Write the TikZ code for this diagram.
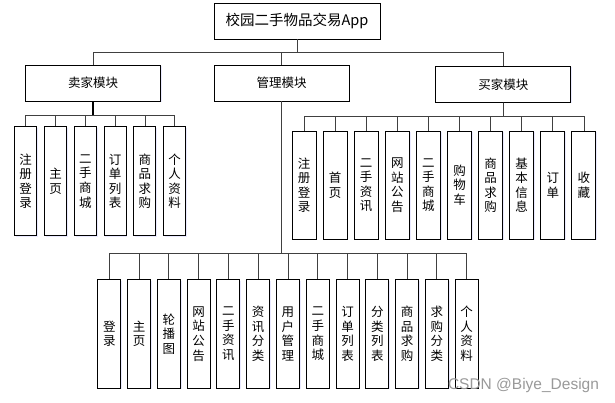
\documentclass[tikz,border=0pt]{standalone}
\usepackage{fontspec}
\setmainfont{Noto Sans CJK SC}
\newfontfamily\wmfont{Liberation Sans}
\usetikzlibrary{shadows}
\begin{document}
\begin{tikzpicture}[x=1pt,y=-1pt,
  box/.style={draw=black,line width=0.9pt,fill=white,inner sep=0pt,
    drop shadow={shadow xshift=1.2pt,shadow yshift=-1.2pt,fill=blue!12,opacity=0.7}},
  topbox/.style={box,minimum width=166pt,minimum height=36pt,font=\fontsize{14.5}{17}\selectfont},
  modbox/.style={box,minimum width=135pt,minimum height=36pt,font=\fontsize{12.5}{15}\selectfont},
  leaf/.style={box,align=center,font=\fontsize{12.5}{14.6}\selectfont},
  sleaf/.style={leaf,minimum width=22pt,minimum height=109pt},
  bleaf/.style={leaf,minimum width=24pt,minimum height=108pt},
  mleaf/.style={leaf,minimum width=23pt,minimum height=108.5pt},
  conn/.style={draw=black!75,line width=0.8pt}]
\useasboundingbox (0,0) rectangle (615,403);

% bus levels
\coordinate (bus0) at (0,52);
\coordinate (bus1) at (0,115);
\coordinate (bus2) at (0,116);
\coordinate (bus3) at (0,253.3);

\node[topbox] (top) at (297,21) {校园二手物品交易App};
\node[modbox] (seller) at (93,83) {卖家模块};
\node[modbox] (admin) at (281.7,83) {管理模块};
\node[modbox] (buyer) at (503.3,84.3) {买家模块};

\draw[conn] (top.south) -- (top.south |- bus0) -| (seller.north);
\draw[conn] (top.south) -- (top.south |- bus0) -| (admin.north);
\draw[conn] (top.south) -- (top.south |- bus0) -| (buyer.north);

% seller leaves
\foreach \t [count=\i] in {注\\册\\登\\录,主\\页,二\\手\\商\\城,订\\单\\列\\表,商\\品\\求\\购,个\\人\\资\\料}{
  \node[sleaf] (s\i) at ({25.7+29.8*(\i-1)},181.3) {\t};
  \draw[conn] (seller.south) -- (seller.south |- bus1) -| (s\i.north);
}
\draw[line width=1.6pt,draw=black] (seller.south) -- (seller.south |- bus1);

% buyer leaves
\foreach \t [count=\i] in {注\\册\\登\\录,首\\页,二\\手\\资\\讯,网\\站\\公\\告,二\\手\\商\\城,购\\物\\车,商\\品\\求\\购,基\\本\\信\\息,订\\单,收\\藏}{
  \node[bleaf] (b\i) at ({304+31.1*(\i-1)},185.2) {\t};
  \draw[conn] (buyer.south) -- (buyer.south |- bus2) -| (b\i.north);
}

% admin leaves
\foreach \t [count=\i] in {登\\录,主\\页,轮\\播\\图,网\\站\\公\\告,二\\手\\资\\讯,资\\讯\\分\\类,用\\户\\管\\理,二\\手\\商\\城,订\\单\\列\\表,分\\类\\列\\表,商\\品\\求\\购,求\\购\\分\\类,个\\人\\资\\料}{
  \node[mleaf] (m\i) at ({109.3+29.78*(\i-1)},333.9) {\t};
  \draw[conn] (admin.south) -- (admin.south |- bus3) -| (m\i.north);
}

\node[text=black!40,font=\wmfont\fontsize{15.5}{18}\selectfont,inner sep=0pt] (wm) at (523.5,385) {CSDN @Biye\_Design};
\end{tikzpicture}
\end{document}
